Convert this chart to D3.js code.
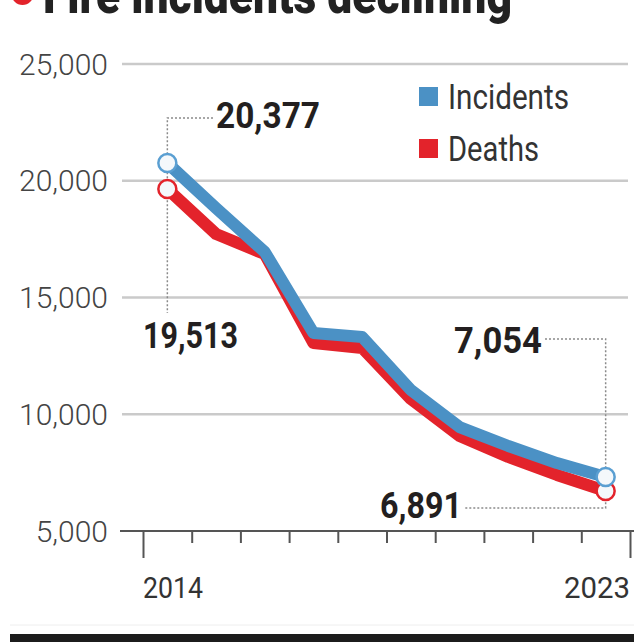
<!DOCTYPE html>
<html>
<head>
<meta charset="utf-8">
<script src="https://cdn.jsdelivr.net/npm/d3@7"></script>
<style>
  html, body { margin: 0; padding: 0; background: #fff; }
  svg { display: block; }
  text { font-family: Roboto, "Open Sans", sans-serif; }
</style>
</head>
<body>
<div id="chart"></div>
<script>
// ---------- data ----------
const title = "Fire incidents declining";
const years = [2014, 2015, 2016, 2017, 2018, 2019, 2020, 2021, 2022, 2023];
const incidents = [20760, 18830, 16950, 13480, 13310, 11040, 9450, 8640, 7910, 7310];
const deaths    = [19650, 17720, 16860, 13050, 12840, 10650, 9070, 8170, 7400, 6710];
const seriesNames = ["Incidents", "Deaths"];
const seriesColors = ["#4b91c5", "#e3232b"];
const yTicks = [5000, 10000, 15000, 20000, 25000];
const xLabels = ["2014", "2023"];
const annotIncidents = [20377, 7054]; // first, last
const annotDeaths = [19513, 6891];    // first, last

// ---------- setup ----------
const W = 634, H = 642;
const svg = d3.select("#chart").append("svg").attr("width", W).attr("height", H);

const y = d3.scaleLinear().domain([5000, 25000]).range([531, 64]);
// band edges (ticks) on a linear scale; points at year + 0.5
const xEdge = d3.scaleLinear().domain([2014, 2024]).range([143, 630]);
const xPt = yr => xEdge(yr + 0.5);
const fmt = d3.format(",");

// ---------- title (cut off at top, as in the reference) ----------
svg.append("circle").attr("cx", 22.5).attr("cy", -6).attr("r", 11).attr("fill", "#e3232b");
svg.append("text").attr("x", 43).attr("y", 13)
  .attr("font-size", 52).attr("font-weight", 900).attr("fill", "#222")
  .attr("textLength", 469).attr("lengthAdjust", "spacingAndGlyphs")
  .text(title);

// ---------- gridlines ----------
svg.append("g").selectAll("line")
  .data(yTicks.filter(d => d !== 5000))
  .join("line")
  .attr("x1", 122).attr("x2", 628)
  .attr("y1", d => y(d)).attr("y2", d => y(d))
  .attr("stroke", "#cacaca").attr("stroke-width", 2.5);

// y labels
svg.append("g").selectAll("text")
  .data(yTicks)
  .join("text")
  .attr("x", 108).attr("y", d => y(d))
  .attr("text-anchor", "end").attr("dominant-baseline", "central")
  .attr("font-size", 30).attr("font-weight", 300).attr("fill", "#444")
  .text(d => fmt(d));

// x axis
const xAxis = d3.axisBottom(xEdge)
  .tickValues(d3.range(2014, 2025))
  .tickSize(12).tickSizeOuter(0).tickFormat("");
const gx = svg.append("g").attr("transform", `translate(0,${y(5000)})`).call(xAxis);
gx.select(".domain").remove();
gx.selectAll(".tick line").attr("stroke", "#555").attr("stroke-width", 2)
  .attr("y2", (d, i, n) => (i === 0 || i === n.length - 1) ? 27 : 12);
svg.append("line").attr("x1", 120).attr("x2", 634)
  .attr("y1", y(5000)).attr("y2", y(5000))
  .attr("stroke", "#555").attr("stroke-width", 2);

svg.append("text").attr("x", xEdge(2014)).attr("y", 598)
  .attr("font-size", 30).attr("fill", "#333")
  .attr("textLength", 60).attr("lengthAdjust", "spacingAndGlyphs")
  .text(xLabels[0]);
svg.append("text").attr("x", xEdge(2024) - 66).attr("y", 598)
  .attr("font-size", 30).attr("fill", "#333")
  .attr("textLength", 66).attr("lengthAdjust", "spacingAndGlyphs")
  .text(xLabels[1]);

// ---------- leader lines ----------
const lead = svg.append("g").attr("stroke", "#8a8a8a").attr("stroke-width", 1.5)
  .attr("stroke-dasharray", "2,2").attr("fill", "none");
const x0 = xPt(years[0]), x1 = xPt(years[years.length - 1]);
lead.append("path").attr("d", `M213,118 H${x0} V313`);
lead.append("path").attr("d", `M545,339 H${x1} V508 H465`);

// ---------- lines ----------
const line = d3.line().x((d, i) => xPt(years[i])).y(d => y(d));
const seriesData = [incidents, deaths];
[1, 0].forEach(k => {
  svg.append("path").datum(seriesData[k])
    .attr("d", line)
    .attr("fill", "none")
    .attr("stroke", seriesColors[k])
    .attr("stroke-width", 12)
    .attr("stroke-linejoin", "round")
    .attr("stroke-linecap", "butt");
});

// endpoint circles
[1, 0].forEach(k => {
  const vals = seriesData[k];
  [0, vals.length - 1].forEach(i => {
    svg.append("circle")
      .attr("cx", xPt(years[i])).attr("cy", y(vals[i])).attr("r", 9)
      .attr("fill", "#f4f8fb")
      .attr("stroke", k === 0 ? "#5a9fd2" : "#e3232b")
      .attr("stroke-width", 2.5);
  });
});

// ---------- value labels ----------
const valLab = (txt, x, yy, anchor, len) => svg.append("text")
  .attr("x", anchor === "end" ? x - len : x).attr("y", yy)
  .attr("font-size", 37).attr("font-weight", 700).attr("fill", "#231f20")
  .attr("textLength", len).attr("lengthAdjust", "spacingAndGlyphs")
  .text(txt);
valLab(fmt(annotIncidents[0]), 216, 128, "start", 104);
valLab(fmt(annotDeaths[0]), 143, 348, "start", 95);
valLab(fmt(annotIncidents[1]), 542, 353, "end", 88);
valLab(fmt(annotDeaths[1]), 462, 518, "end", 82);

// ---------- legend ----------
const legendY = [87, 139];
const legendLen = [121, 91];
seriesNames.forEach((nm, k) => {
  svg.append("rect").attr("x", 419).attr("y", legendY[k])
    .attr("width", 19).attr("height", 19).attr("fill", seriesColors[k]);
  svg.append("text").attr("x", 448).attr("y", legendY[k] + 22)
    .attr("font-size", 35).attr("fill", "#333")
    .attr("textLength", legendLen[k]).attr("lengthAdjust", "spacingAndGlyphs")
    .text(nm);
});

// ---------- bottom bar ----------
svg.append("line").attr("x1", 10).attr("x2", 634).attr("y1", 625).attr("y2", 625)
  .attr("stroke", "#eee").attr("stroke-width", 1);
svg.append("rect").attr("x", 10).attr("y", 634).attr("width", 624).attr("height", 8)
  .attr("fill", "#1c1c1c");
</script>
</body>
</html>
